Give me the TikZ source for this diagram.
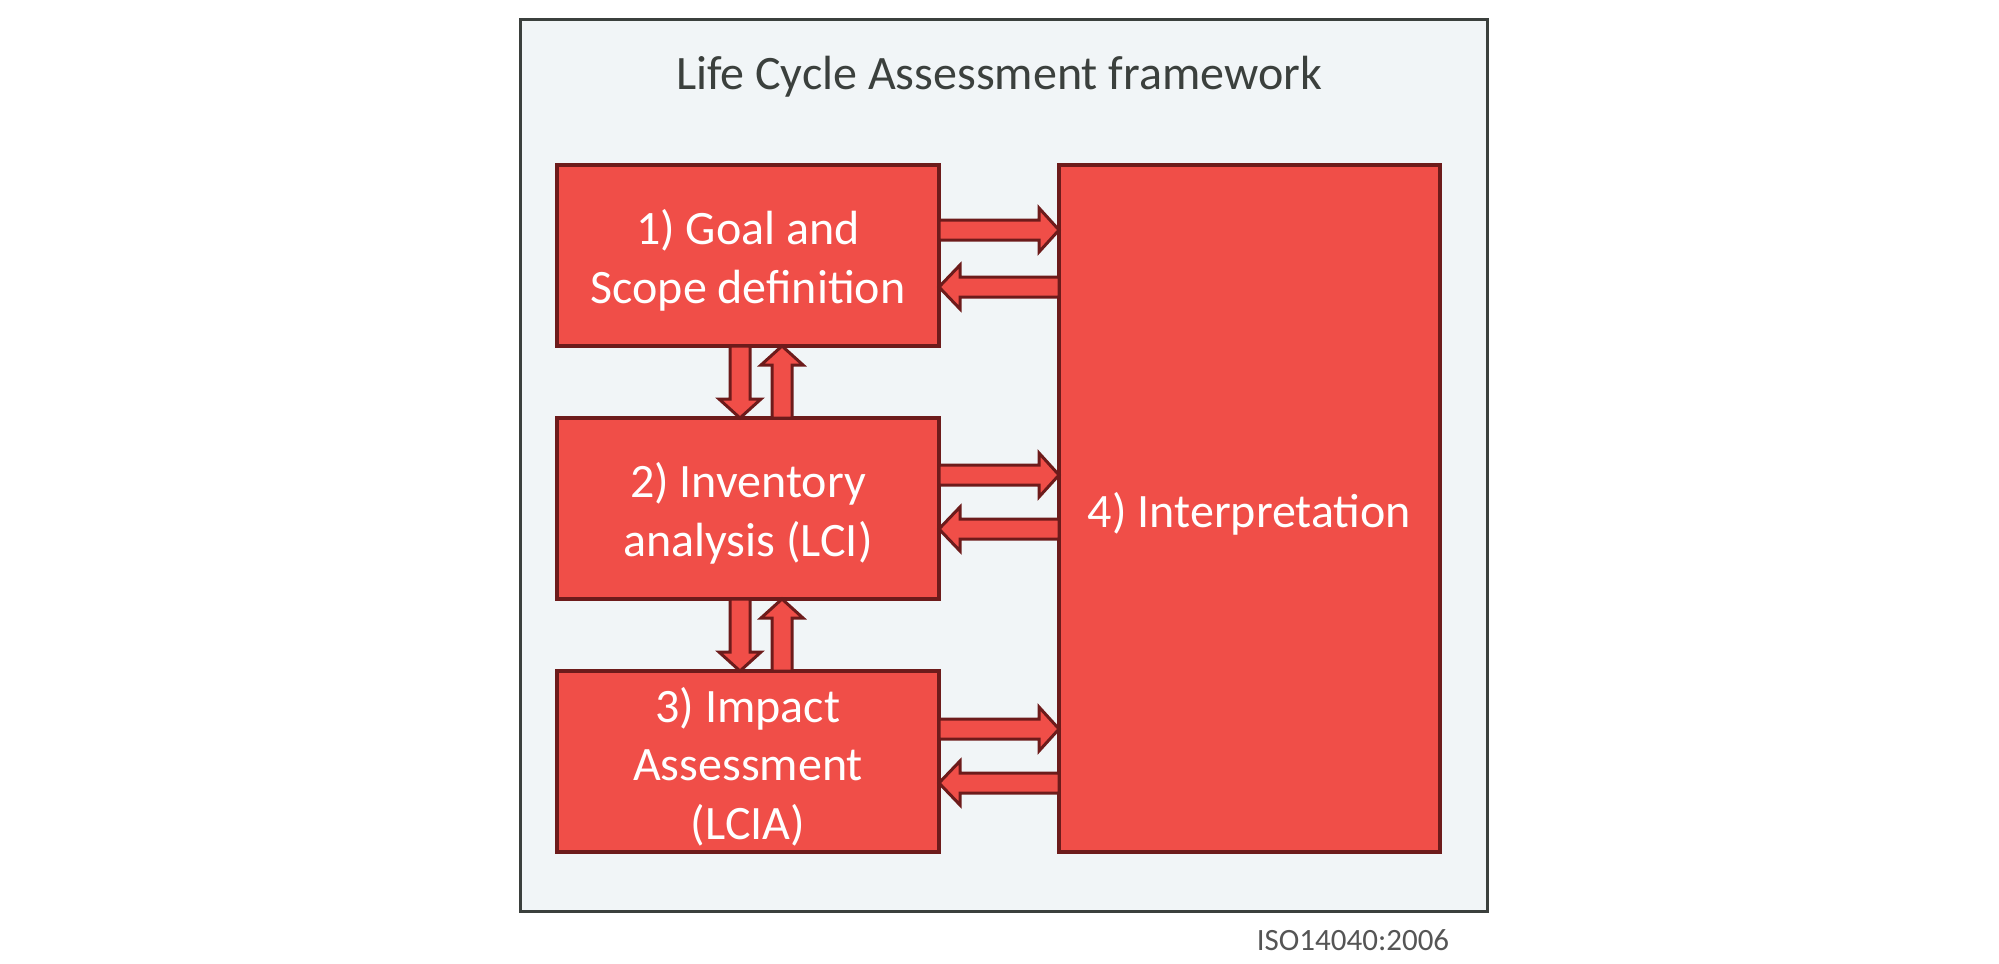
\documentclass[tikz,border=0pt]{standalone}
\usepackage{fontspec}
\setmainfont{Carlito}
\definecolor{boxred}{HTML}{F04E48}
\definecolor{darkred}{HTML}{6D1B1B}
\definecolor{bggray}{HTML}{F1F5F7}
\definecolor{framegray}{HTML}{3B403D}
\definecolor{isogray}{HTML}{555555}
\newcommand\RArr[3]{\draw[arr] (#1,#3-10) -- (#2-20,#3-10) -- (#2-20,#3-22) -- (#2,#3) -- (#2-20,#3+22) -- (#2-20,#3+10) -- (#1,#3+10) -- cycle;}
\newcommand\LArr[3]{\draw[arr] (#2,#3-10) -- (#1+21,#3-10) -- (#1+21,#3-22) -- (#1,#3) -- (#1+21,#3+22) -- (#1+21,#3+10) -- (#2,#3+10) -- cycle;}
\newcommand\DArr[3]{\draw[arr] (#1-10,#2) -- (#1-10,#3-19) -- (#1-21,#3-19) -- (#1,#3) -- (#1+21,#3-19) -- (#1+10,#3-19) -- (#1+10,#2) -- cycle;}
\newcommand\UArr[3]{\draw[arr] (#1-10,#3) -- (#1-10,#2+19) -- (#1-21,#2+19) -- (#1,#2) -- (#1+21,#2+19) -- (#1+10,#2+19) -- (#1+10,#3) -- cycle;}
\begin{document}
\begin{tikzpicture}[x=0.5pt,y=-0.5pt,
  frame/.style={draw=framegray, line width=1.5pt, fill=bggray, inner sep=0pt,
    minimum width=483.5pt, minimum height=446pt},
  box/.style={draw=darkred, line width=2pt, fill=boxred, inner sep=0pt,
    minimum width=191pt, minimum height=90.5pt},
  boxtext/.style={text=white, font=\fontsize{24}{29.2}\selectfont, align=center,
    inner sep=0pt, yshift=-2.5pt},
  arr/.style={draw=darkred, line width=1.5pt, fill=boxred, line join=miter},
  title/.style={text=framegray, font=\fontsize{24}{28}\selectfont, inner sep=0pt},
  iso/.style={text=isogray, font=\fontsize{15.5}{18}\selectfont, inner sep=0pt}]
\useasboundingbox (0,0) rectangle (1999,964);
\node[frame] (frame) at (1003.5,465) {};
\node[title, anchor=base] (title) at (999,89) {Life Cycle Assessment framework};
\node[box, label={[boxtext]center:{1) Goal and\\Scope definition}}] (b1) at (748,255.5) {};
\node[box, label={[boxtext]center:{2) Inventory\\analysis (LCI)}}] (b2) at (748,508.5) {};
\node[box, label={[boxtext]center:{3) Impact\\Assessment\\(LCIA)}}] (b3) at (748,761.5) {};
\node[box, minimum width=190.5pt, minimum height=343.5pt,
  label={[boxtext]center:{4) Interpretation}}] (b4) at (1249.5,508.5) {};
\node[iso, anchor=base] (iso) at (1353,950) {ISO14040:2006};
% horizontal arrows between boxes 1-3 and interpretation
\RArr{939}{1059}{230}
\LArr{939}{1059}{287}
\RArr{939}{1059}{475}
\LArr{939}{1059}{529}
\RArr{939}{1059}{729}
\LArr{939}{1059}{783}
% vertical arrows
\DArr{740}{346}{418}
\UArr{782}{346}{418}
\DArr{740}{599}{671}
\UArr{782}{599}{671}
\end{tikzpicture}
\end{document}
